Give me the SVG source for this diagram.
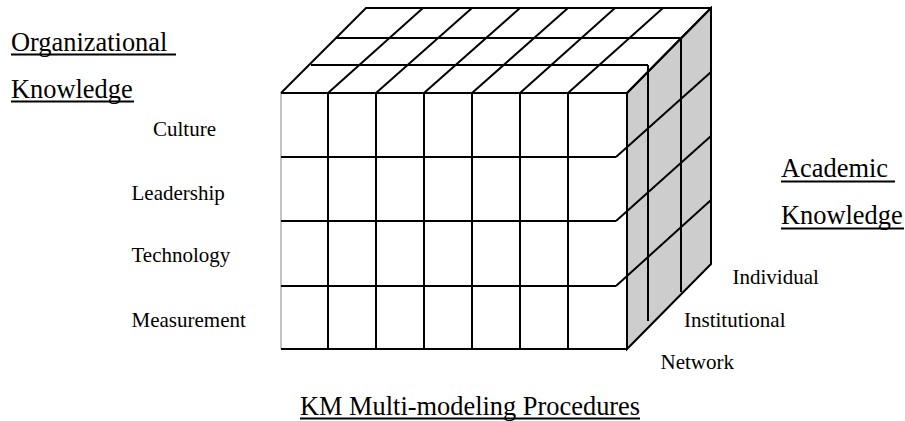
<svg xmlns="http://www.w3.org/2000/svg" width="905" height="421" viewBox="0 0 905 421">
<style>
.ln{stroke:#000;stroke-width:2;fill:none;stroke-linecap:butt}
.big{font-family:"Liberation Serif","Times New Roman",serif;font-size:26.4px;fill:#000}
.sm{font-family:"Liberation Serif","Times New Roman",serif;font-size:21px;fill:#000}
.ul{stroke:#000;stroke-width:2}
</style>
<rect width="905" height="421" fill="#fff"/>
<g id="cube">
  <g id="right-face">
    <polygon points="627,93 711,8 711,264 627,349" fill="#cdcdcd" stroke="#000" stroke-width="2"/>
    <path class="ln" d="M648,65V321M681,38V292"/>
    <path class="ln" d="M616,157L711,72M616,221L711,136M616,286L711,200"/>
  </g>
  <g id="top-face">
    <path class="ln" d="M281,93L366,8H711"/>
    <path class="ln" d="M328,93L423,8M376,93L472,8M424,93L520,8M472,93L568,8M520,93L615,8M568,93L663,8M627,93L711,8"/>
    <path class="ln" d="M311,65H648M336,38H681"/>
  </g>
  <g id="front-face">
    <path d="M281,93V349" stroke="#999" stroke-width="1.2" fill="none"/>
    <path class="ln" d="M281,93H627V349H281"/>
    <path class="ln" d="M328,93V349M376,93V349M424,93V349M472,93V349M520,93V349M568,93V349"/>
    <path class="ln" d="M281,157H616M281,221H616M281,286H616"/>
  </g>
</g>
<g id="labels">
  <g id="org-knowledge">
    <text class="big" x="11" y="51">Organizational</text>
    <line class="ul" x1="11" y1="54.5" x2="176" y2="54.5"/>
    <text class="big" x="11" y="98">Knowledge</text>
    <line class="ul" x1="11" y1="101.5" x2="134" y2="101.5"/>
  </g>
  <g id="rows">
    <text class="sm" x="153" y="135.5">Culture</text>
    <text class="sm" x="131.5" y="200">Leadership</text>
    <text class="sm" x="131.5" y="262">Technology</text>
    <text class="sm" x="131.5" y="327">Measurement</text>
  </g>
  <g id="academic-knowledge">
    <text class="big" x="781" y="177">Academic</text>
    <line class="ul" x1="781" y1="181.5" x2="895" y2="181.5"/>
    <text class="big" x="781" y="224">Knowledge</text>
    <line class="ul" x1="781" y1="228.5" x2="904" y2="228.5"/>
  </g>
  <g id="depth">
    <text class="sm" x="732.5" y="283.5">Individual</text>
    <text class="sm" x="684" y="327">Institutional</text>
    <text class="sm" x="660.5" y="369">Network</text>
  </g>
  <g id="procedures">
    <text class="big" x="300" y="415">KM Multi-modeling Procedures</text>
    <line class="ul" x1="300" y1="418.5" x2="640" y2="418.5"/>
  </g>
</g>
</svg>
